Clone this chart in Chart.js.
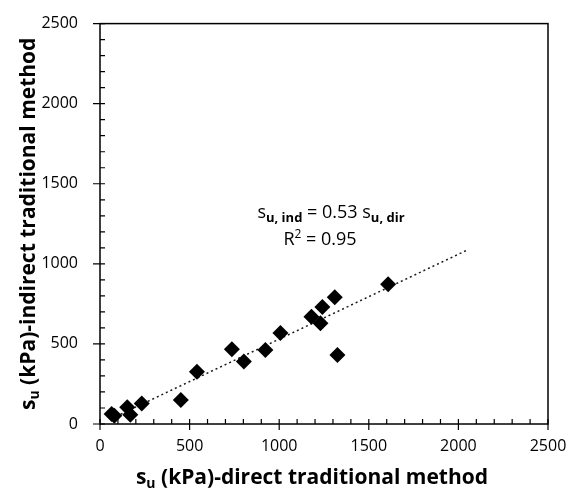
<!DOCTYPE html>
<html>
<head>
<meta charset="utf-8">
<script src="https://cdn.jsdelivr.net/npm/chart.js@4.4.1/dist/chart.umd.min.js"></script>
<style>
  html, body { margin: 0; padding: 0; background: #fff; }
  #wrap { width: 572px; height: 494px; }
</style>
</head>
<body>
<div id="wrap"><canvas id="suChart" width="572" height="494"></canvas></div>
<script>
// undrained shear strength su (kPa): direct vs indirect traditional method
const suDirect   = [65, 80, 152, 169, 233, 451, 541, 736, 803, 923, 1007, 1180, 1230, 1241, 1310, 1325, 1608];
const suIndirect = [62, 52, 105, 58, 128, 150, 326, 466, 390, 462, 568, 670, 629, 731, 792, 431, 872];

// fitted line through the origin, su,ind = SLOPE * su,dir
const SLOPE = 0.53;
const R2 = 0.95;
const trendX = [65, 2050];

const axisTicks = [0, 500, 1000, 1500, 2000, 2500];
const MINOR_STEP = 100;

const points = suDirect.map((v, i) => ({ x: v, y: suIndirect[i] }));
const trendPts = trendX.map(v => ({ x: v, y: SLOPE * v }));

const FONT = '"Open Sans", Lato, sans-serif';

// writes a row of text pieces (some sub/superscripted) centred on cx
function drawRuns(ctx, runs, cx, baseY) {
  let w = 0;
  runs.forEach(r => { ctx.font = r.font; w += ctx.measureText(r.text).width; });
  let x = cx - w / 2;
  ctx.textAlign = 'left';
  ctx.textBaseline = 'alphabetic';
  runs.forEach(r => {
    ctx.font = r.font;
    ctx.fillText(r.text, x, baseY + (r.dy || 0));
    x += ctx.measureText(r.text).width;
  });
}

// box round the plot plus major (crossing) and minor (inside) tick marks
const frameTicks = {
  id: 'frameTicks',
  beforeDatasetsDraw(chart) {
    const { ctx, chartArea: a, scales: { x, y } } = chart;
    const top = axisTicks[axisTicks.length - 1];
    ctx.save();
    ctx.strokeStyle = '#000';
    ctx.lineWidth = 1.5;
    ctx.strokeRect(a.left, a.top, a.right - a.left, a.bottom - a.top);
    ctx.lineWidth = 1.2;
    ctx.beginPath();
    for (let v = 0; v <= top; v += MINOR_STEP) {
      const major = axisTicks.includes(v);
      const px = x.getPixelForValue(v);
      ctx.moveTo(px, a.bottom + (major ? 6 : 0));
      ctx.lineTo(px, a.bottom - 5);
      const py = y.getPixelForValue(v);
      ctx.moveTo(a.left - (major ? 7 : 0), py);
      ctx.lineTo(a.left + 5, py);
    }
    ctx.stroke();
    ctx.restore();
  }
};

// axis titles and the regression label
const labelText = {
  id: 'labelText',
  afterDraw(chart) {
    const { ctx, chartArea: a } = chart;
    const midY = (a.top + a.bottom) / 2;
    const big = 'bold 21px ' + FONT;
    const sub = 'bold 14px ' + FONT;
    ctx.save();
    ctx.fillStyle = '#000';

    drawRuns(ctx, [
      { text: 's', font: big },
      { text: 'u', font: sub, dy: 4 },
      { text: ' (kPa)-direct traditional method', font: big }
    ], 312, 484);

    ctx.save();
    ctx.translate(35, midY);
    ctx.rotate(-Math.PI / 2);
    drawRuns(ctx, [
      { text: 's', font: big },
      { text: 'u', font: sub, dy: 4 },
      { text: ' (kPa)-indirect traditional method', font: big }
    ], 0, 0);
    ctx.restore();

    const txt = '18px ' + FONT;
    const idx = 'bold 13px ' + FONT;
    drawRuns(ctx, [
      { text: 's', font: txt },
      { text: 'u, ind', font: idx, dy: 4 },
      { text: ' = ' + SLOPE.toFixed(2) + ' ', font: txt },
      { text: 's', font: txt },
      { text: 'u, dir', font: idx, dy: 4 }
    ], 331, 218);
    drawRuns(ctx, [
      { text: 'R', font: txt },
      { text: '2', font: '12px ' + FONT, dy: -7 },
      { text: ' = ' + R2.toFixed(2), font: txt }
    ], 320, 245);
    ctx.restore();
  }
};

const axisOpts = {
  type: 'linear',
  min: axisTicks[0],
  max: axisTicks[axisTicks.length - 1],
  grid: { display: false },
  border: { display: false },
  afterBuildTicks: s => { s.ticks = axisTicks.map(v => ({ value: v })); },
  ticks: { color: '#000', font: { family: FONT, size: 16 }, callback: v => String(v) }
};

new Chart(document.getElementById('suChart'), {
  type: 'scatter',
  data: {
    datasets: [
      {
        label: 'fit',
        type: 'line',
        data: trendPts,
        borderColor: '#1a1a1a',
        borderWidth: 1.5,
        borderDash: [2, 3],
        pointRadius: 0,
        fill: false,
        order: 2
      },
      {
        label: 'su',
        data: points,
        pointStyle: 'rectRot',
        pointRadius: 8,
        pointHoverRadius: 8,
        backgroundColor: '#000',
        borderColor: '#000',
        borderWidth: 0,
        clip: false,
        order: 1
      }
    ]
  },
  options: {
    responsive: false,
    animation: false,
    layout: { padding: { top: 16, right: 24, left: 0, bottom: 0 } },
    plugins: { legend: { display: false }, tooltip: { enabled: false } },
    scales: {
      x: { ...axisOpts, ticks: { ...axisOpts.ticks, padding: 5 }, afterFit: s => { s.height = 70; } },
      y: { ...axisOpts, ticks: { ...axisOpts.ticks, padding: 14 }, afterFit: s => { s.width = 100; } }
    }
  },
  plugins: [frameTicks, labelText]
});
</script>
</body>
</html>
